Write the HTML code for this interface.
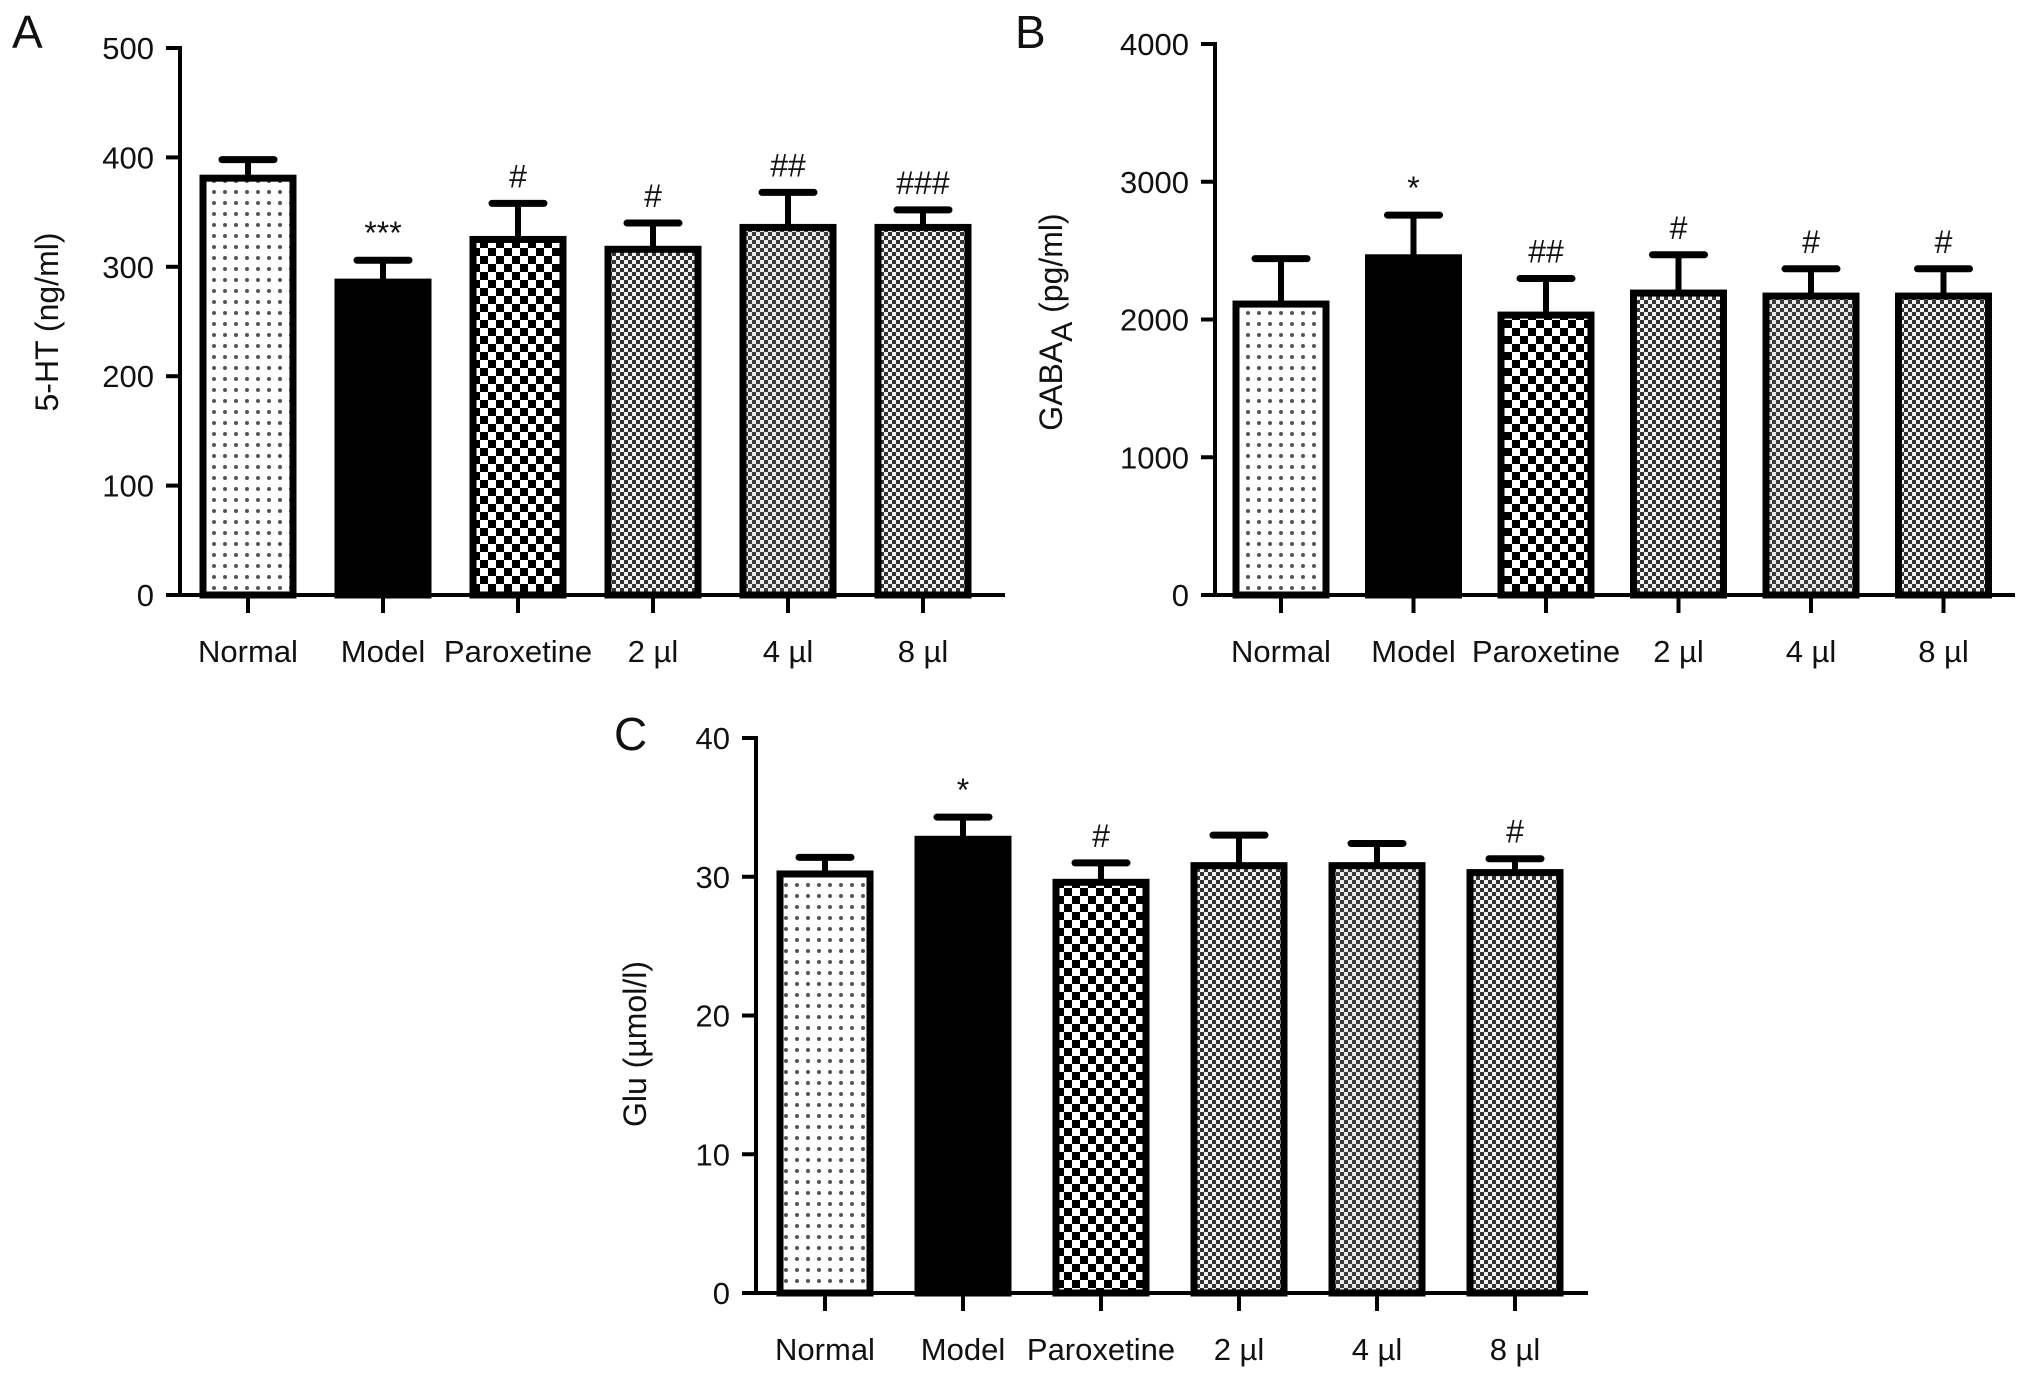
<!DOCTYPE html>
<html><head><meta charset="utf-8"><style>
html,body{margin:0;padding:0;background:#fff}
svg{display:block}
text{font-family:"Liberation Sans",Arial,sans-serif;fill:#111}
</style></head><body>
<svg id="fig" width="2032" height="1384" viewBox="0 0 2032 1384" xmlns="http://www.w3.org/2000/svg">
<defs>
<pattern id="pDots" width="11" height="11" patternUnits="userSpaceOnUse"><rect width="11" height="11" fill="#fff"/><circle cx="5" cy="5" r="2" fill="#555"/></pattern>
<pattern id="pCheck" width="16" height="16" patternUnits="userSpaceOnUse"><rect width="16" height="16" fill="#fff"/><rect width="8" height="8" fill="#000"/><rect x="8" y="8" width="8" height="8" fill="#000"/></pattern>
<pattern id="pFine" width="8" height="8" patternUnits="userSpaceOnUse"><rect width="8" height="8" fill="#f2f2f2"/><rect width="4" height="4" fill="#333"/><rect x="4" y="4" width="4" height="4" fill="#333"/></pattern>
<pattern id="pFine2" width="8" height="8" patternUnits="userSpaceOnUse"><rect width="8" height="8" fill="#eaeaea"/><rect width="4" height="4" fill="#3a3a3a"/><rect x="4" y="4" width="4" height="4" fill="#3a3a3a"/></pattern>
</defs>
</svg>
<script>
const categories = ["Normal","Model","Paroxetine","2 \u00b5l","4 \u00b5l","8 \u00b5l"];
const valuesA = [381,286,325,316,336,336];
const errorsA = [398,306,358,340,368,352];
const annotA = ["","***","#","#","##","###"];
const ticksA = [0,100,200,300,400,500];
const valuesB = [2112,2448,2032,2192,2170,2170];
const errorsB = [2442,2758,2298,2470,2368,2368];
const annotB = ["","*","##","#","#","#"];
const ticksB = [0,1000,2000,3000,4000];
const valuesC = [30.2,32.7,29.6,30.8,30.8,30.3];
const errorsC = [31.4,34.3,31.0,33.0,32.4,31.3];
const annotC = ["","*","#","","","#"];
const ticksC = [0,10,20,30,40];

const NS="http://www.w3.org/2000/svg";
const svg=document.getElementById('fig');
const fills=["url(#pDots)","#000","url(#pCheck)","url(#pFine)","url(#pFine2)","url(#pFine)"];
function mk(tag,attrs,parent){const e=document.createElementNS(NS,tag);for(const k in attrs)e.setAttribute(k,attrs[k]);(parent||svg).appendChild(e);return e;}

function panel(cfg,vals,errs,ann,ticks){
  const g=mk('g',{});
  
  
  const max=ticks[ticks.length-1];
  const y=v=>cfg.y0-(v/max)*(cfg.y0-cfg.yTop);
  const x=i=>cfg.x0c+i*cfg.step;
  const L=mk('text',{x:cfg.lx,y:cfg.ly,'font-size':46},g);L.textContent=cfg.letter;
  
  
  const ya=mk('line',{x1:cfg.ax,y1:y(max)-2,x2:cfg.ax,y2:cfg.y0+2,stroke:'#000','stroke-width':4},g);
  
  
  ticks.forEach(t=>{
    mk('line',{x1:cfg.ax-14,y1:y(t),x2:cfg.ax,y2:y(t),stroke:'#000','stroke-width':4},g);
    const tl=mk('text',{x:cfg.ax-26,y:y(t)+11,'font-size':31,'text-anchor':'end'},g);tl.textContent=t;
    
    
  });
  const yt=mk('text',{x:0,y:0,'font-size':32,'text-anchor':'middle',transform:`translate(${cfg.tx},${cfg.ty}) rotate(-90)`},g);
  
  
  if(cfg.sub){const a=mk('tspan',{},yt);a.textContent=cfg.title[0];const s=mk('tspan',{dy:10,'font-size':30},yt);s.textContent=cfg.sub;const b=mk('tspan',{dy:-10},yt);b.textContent=cfg.title[1];}
  else yt.textContent=cfg.title;
  vals.forEach((v,i)=>{
    const cx=x(i),w=90;
    const e=mk('line',{x1:cx,y1:y(v),x2:cx,y2:y(errs[i]),stroke:'#000','stroke-width':6},g);
    
    
    mk('line',{x1:cx-26,y1:y(errs[i]),x2:cx+26,y2:y(errs[i]),stroke:'#000','stroke-width':7,'stroke-linecap':'round'},g);
    const r=mk('rect',{x:cx-w/2,y:y(v),width:w,height:y(0)-y(v),fill:fills[i],stroke:'#000','stroke-width':7},g);
    
    
    if(ann[i]){const a=mk('text',{x:cx,y:y(errs[i])-16,'font-size':32,'text-anchor':'middle'},g);a.textContent=ann[i];
      
      }
    mk('line',{x1:cx,y1:cfg.y0,x2:cx,y2:cfg.y0+18,stroke:'#000','stroke-width':4},g);
    const xl=mk('text',{x:cx,y:cfg.y0+67,'font-size':31,'text-anchor':'middle'},g);xl.textContent=categories[i];
    
    
  });
  const xa=mk('line',{x1:cfg.ax-2,y1:cfg.y0,x2:cfg.xEnd,y2:cfg.y0,stroke:'#000','stroke-width':4},g);
  
  
}
panel({name:'panel-a-5ht',letter:'A',lx:12,ly:48,ax:180,y0:595,yTop:48,x0c:248,step:135,xEnd:1005,tx:58,ty:322,title:'5-HT (ng/ml)'},valuesA,errorsA,annotA,ticksA);
panel({name:'panel-b-gaba',letter:'B',lx:1015,ly:48,ax:1215,y0:595,yTop:44,x0c:1281,step:132.5,xEnd:2015,tx:1062,ty:322,title:['GABA',' (pg/ml)'],sub:'A'},valuesB,errorsB,annotB,ticksB);
panel({name:'panel-c-glu',letter:'C',lx:614,ly:750,ax:756,y0:1293,yTop:738,x0c:825,step:138,xEnd:1588,tx:646,ty:1044,title:'Glu (\u00b5mol/l)'},valuesC,errorsC,annotC,ticksC);
</script>
</body></html>
